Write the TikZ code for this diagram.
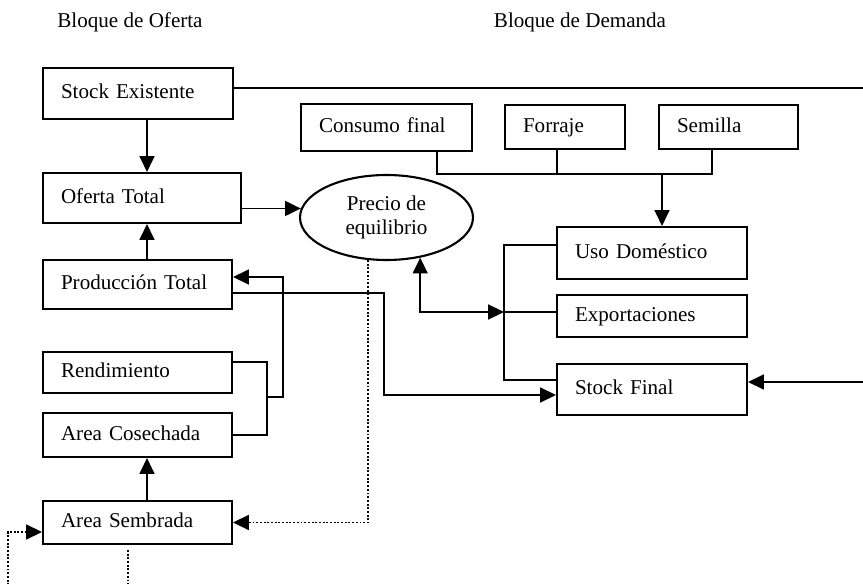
\documentclass[tikz,border=0pt]{standalone}
\usepackage{fontspec}
\setmainfont{Liberation Serif}
\usetikzlibrary{arrows.meta,shapes.geometric}

\tikzset{
	block/.style 2 args={draw, line width=1.2pt, text width=#1, minimum height=#2,
		inner xsep=.36cm, inner ysep=0pt, align=left, font=\fontsize{12}{14}\selectfont,
		execute at begin node={\rule[-.2em]{0pt}{.9em}}},
	heading/.style={font=\fontsize{12}{14}\selectfont},
	link/.style={line width=1pt},
	dotlink/.style={line width=1.1pt, densely dotted},
}

\begin{document}
\begin{tikzpicture}[x=.02cm, y=-.02cm, >={Triangle[length=9pt,width=8.5pt]}]
	\useasboundingbox (0,0) rectangle (863,584);
	\fill[white] (0,0) rectangle (863,584);

	% headings
	\node[heading] (hOferta) at (130,22) {Bloque de Oferta};
	\node[heading] (hDemanda) at (580,22) {Bloque de Demanda};

	% supply block
	\node[block={3.08cm}{1.02cm}] (StockEx) at (138,93.5) {Stock Existente};
	\node[block={3.24cm}{1.00cm}] (OfertaTot) at (142,198) {Oferta Total};
	\node[block={3.06cm}{0.98cm}] (ProdTot) at (137.5,284.5) {Producción Total};
	\node[block={3.06cm}{0.82cm}] (Rendim) at (137.5,372.5) {Rendimiento};
	\node[block={3.06cm}{0.88cm}] (AreaCos) at (137.5,435) {Area Cosechada};
	\node[block={3.06cm}{0.86cm}] (AreaSem) at (137.5,522.5) {Area Sembrada};

	% price
	\node[draw, ellipse, line width=1.2pt, minimum width=3.46cm, minimum height=1.7cm,
		inner sep=0pt, align=center, heading] (Precio) at (386.5,217.5) {Precio de\\equilibrio};

	% demand block
	\node[block={2.70cm}{0.94cm}] (ConsFinal) at (386.5,127.5) {Consumo final};
	\node[block={1.68cm}{0.88cm}] (Forraje) at (565,127) {Forraje};
	\node[block={2.06cm}{0.88cm}] (Semilla) at (728.5,127) {Semilla};
	\node[block={3.08cm}{1.04cm}] (UsoDom) at (652,253) {Uso Doméstico};
	\node[block={3.08cm}{0.84cm}] (Export) at (652,316) {Exportaciones};
	\node[block={3.08cm}{1.02cm}] (StockFin) at (652,389.5) {Stock Final};

	% turning points
	\coordinate (col) at (147,0);
	\coordinate (busR) at (267,397);
	\coordinate (turnR) at (283,397);
	\coordinate (turnP) at (384,395);
	\coordinate (busD) at (504,312);
	\coordinate (tapC) at (437,174);
	\coordinate (tapF) at (557,174);
	\coordinate (tapS) at (712,174);
	\coordinate (busT) at (662,174);
	\coordinate (edgeR) at (880,382);
	\coordinate (loopL) at (8,600);
	\coordinate (downS) at (128,550);

	% supply links
	\draw[link,->] (StockEx.south -| col) -- (OfertaTot.north -| col);
	\draw[link,->] (ProdTot.north -| col) -- (OfertaTot.south -| col);
	\draw[link,->] (AreaSem.north -| col) -- (AreaCos.south -| col);
	\draw[link,->] (OfertaTot.east |- Precio.174) -- (Precio.174);
	\draw[link] ([yshift=.21cm]Rendim.east) -| (busR) |- (AreaCos.east);
	\draw[link,->] (busR) -- (turnR) |- ([yshift=.15cm]ProdTot.east);
	\draw[link,->] ([yshift=-.17cm]ProdTot.east) -| (turnP) -- (turnP -| StockFin.west);

	% demand links
	\draw[link] (ConsFinal.south -| tapC) -- (tapC) -- (tapS) -- (Semilla.south -| tapS);
	\draw[link] (Forraje.south -| tapF) -- (tapF);
	\draw[link,->] (busT) -- (UsoDom.north -| busT);
	\draw[link] ([yshift=.16cm]UsoDom.west) -| (busD) |- ([yshift=.19cm]StockFin.west);
	\draw[link] (busD) -- (busD -| Export.west);
	\draw[link,<->] (Precio.-50) |- (busD);
	\draw[link,->] ([yshift=.11cm]StockEx.east) -| (edgeR) -- (edgeR -| StockFin.east);

	% dotted links
	\draw[dotlink,->] (Precio.-113) |- (AreaSem.east);
	\draw[dotlink,->] (loopL) |- ([yshift=-.19cm]AreaSem.west);
	\draw[dotlink] (downS) -- (downS |- loopL);
\end{tikzpicture}
\end{document}
